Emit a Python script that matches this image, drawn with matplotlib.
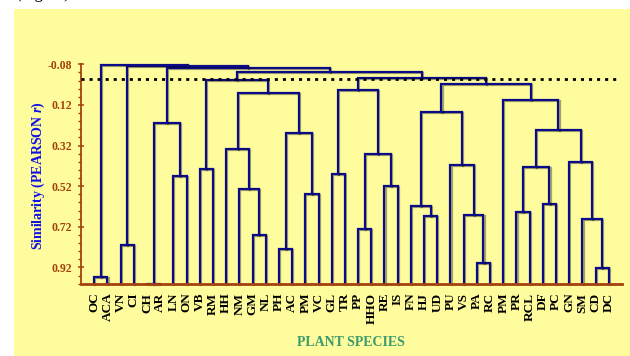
import numpy as np
import matplotlib
matplotlib.use('Agg')
import matplotlib.pyplot as plt
import matplotlib.patheffects as pe
from matplotlib.patches import Rectangle
from matplotlib.ticker import MultipleLocator


# Hojas del dendrograma (de izquierda a derecha)
species = ['OC', 'ACA', 'VN', 'CI', 'CH', 'AR', 'LN', 'ON', 'VB', 'RM',
           'HH', 'NM', 'GM', 'NL', 'PH', 'AC', 'PM', 'VC', 'GL', 'TR',
           'PP', 'HHO', 'RE', 'IS', 'FN', 'HJ', 'UD', 'PU', 'VS', 'PA',
           'RC', 'PM', 'PR', 'RCL', 'DF', 'PC', 'GN', 'SM', 'CD', 'DC']

# Uniones: (nodo a, nodo b, similitud). Las hojas son 0..39,
# cada union nueva recibe el id 40, 41, ...
links = [
    (4, 5, 1.000),      # 40 CH-AR
    (0, 1, 0.966),      # 41 OC-ACA
    (38, 39, 0.922),    # 42 CD-DC
    (29, 30, 0.898),    # 43 PA-RC
    (14, 15, 0.830),    # 44 PH-AC
    (2, 3, 0.809),      # 45 VN-CI
    (12, 13, 0.760),    # 46 GM-NL
    (20, 21, 0.732),    # 47 PP-HHO
    (37, 42, 0.680),    # 48 SM-(CD,DC)
    (25, 26, 0.668),    # 49 HJ-UD
    (28, 43, 0.663),    # 50 VS-(PA,RC)
    (32, 33, 0.645),    # 51 PR-RCL
    (24, 49, 0.616),    # 52 FN-(HJ,UD)
    (34, 35, 0.606),    # 53 DF-PC
    (16, 17, 0.557),    # 54 PM-VC
    (11, 46, 0.532),    # 55 NM-(GM,NL)
    (22, 23, 0.517),    # 56 RE-IS
    (6, 7, 0.468),      # 57 LN-ON
    (18, 19, 0.461),    # 58 GL-TR
    (8, 9, 0.437),      # 59 VB-RM
    (51, 53, 0.424),    # 60
    (27, 50, 0.414),    # 61
    (36, 48, 0.401),    # 62
    (47, 56, 0.361),    # 63
    (10, 55, 0.337),    # 64
    (44, 54, 0.259),    # 65
    (60, 62, 0.243),    # 66
    (40, 57, 0.207),    # 67
    (52, 61, 0.153),    # 68
    (31, 66, 0.096),    # 69
    (64, 65, 0.060),    # 70
    (58, 63, 0.046),    # 71
    (68, 69, 0.017),    # 72
    (59, 70, -0.001),   # 73
    (71, 72, -0.014),   # 74
    (73, 74, -0.044),   # 75
    (67, 75, -0.063),   # 76
    (45, 76, -0.071),   # 77
    (41, 77, -0.077),   # 78
]

cut_level = -0.008
y_ticks = [-0.08, 0.12, 0.32, 0.52, 0.72, 0.92]

navy = '#0b0b8a'
brown = '#a3420e'
yellow = '#fefc9c'


def draw_dendrogram(ax):
    n = len(species)
    pos = {i: float(i) for i in range(n)}
    height = {i: 1.0 for i in range(n)}
    shadow = [pe.SimpleLineShadow(offset=(0.8, -0.8), alpha=0.35), pe.Normal()]

    for k, (a, b, h) in enumerate(links):
        xa, xb = pos[a], pos[b]
        ax.plot([xa, xa, xb, xb], [height[a], h, h, height[b]],
                color=navy, lw=1.6, solid_joinstyle='miter',
                clip_on=False, zorder=3, path_effects=shadow)
        pos[n + k] = (xa + xb) / 2
        height[n + k] = h


def main():

    plt.rcParams['font.family'] = 'Liberation Serif'
    plt.rcParams['mathtext.fontset'] = 'custom'
    plt.rcParams['mathtext.it'] = 'Liberation Serif:italic:bold'

    fig = plt.figure(figsize=(6.3, 3.56), dpi=100, facecolor='white')
    # fondo amarillo del recorte
    fig.patches.append(Rectangle((14 / 630, 0), 1, 347 / 356, transform=fig.transFigure,
                                 facecolor=yellow, edgecolor='none', zorder=-10))
    # resto del titulo de la pagina, cortado arriba
    fig.text(15 / 630, 1 + 1.8 / 356, '(Figure)', fontsize=12, color='black',
             va='baseline', ha='left')

    ax = fig.add_axes([81 / 630, 1 - 283.7 / 356, 541 / 630, 219.4 / 356])
    ax.set_facecolor('none')

    draw_dendrogram(ax)

    ax.axhline(cut_level, xmin=0, xmax=0.993, color='black', lw=2,
               linestyle=(0, (1.1, 1.8)), zorder=4)

    ax.set_xlim(-1, 40)
    ax.set_ylim(1.0, -0.08)

    for s in ['top', 'right']:
        ax.spines[s].set_visible(False)
    ax.spines['left'].set_color(brown)
    ax.spines['left'].set_linewidth(1.3)
    ax.spines['bottom'].set_color(brown)
    ax.spines['bottom'].set_linewidth(2)
    ax.spines['bottom'].set_zorder(5)

    ax.set_yticks(y_ticks)
    ax.set_yticklabels(['%.2f' % v for v in y_ticks])
    ax.yaxis.set_minor_locator(MultipleLocator(0.04))
    ax.tick_params(axis='y', which='major', direction='inout', length=4.5, width=1.1,
                   color=brown, labelcolor=brown, labelsize=8.5, pad=4.3)
    ax.tick_params(axis='y', which='minor', direction='out', length=2.2, width=1.0,
                   color=brown)
    for t in ax.get_yticklabels():
        t.set_fontweight('bold')

    ax.set_xticks(np.arange(len(species)))
    ax.set_xticklabels(species, rotation=90, fontweight='bold', fontsize=9.5)
    ax.tick_params(axis='x', length=0, pad=6.5, labelcolor='black')

    ax.set_ylabel('Similarity (PEARSON $\\it{r}$)', color='#1010e6', fontweight='bold',
                  fontsize=10)
    ax.yaxis.set_label_coords(-0.062, 0.49)

    fig.text(351 / 630, 1 - 343 / 356, 'PLANT SPECIES', color='#3c9a6e',
             fontweight='bold', fontsize=10, ha='center', va='center')

    fig.savefig('out.png', dpi=100, facecolor='white')


if __name__ == '__main__':

    main()
